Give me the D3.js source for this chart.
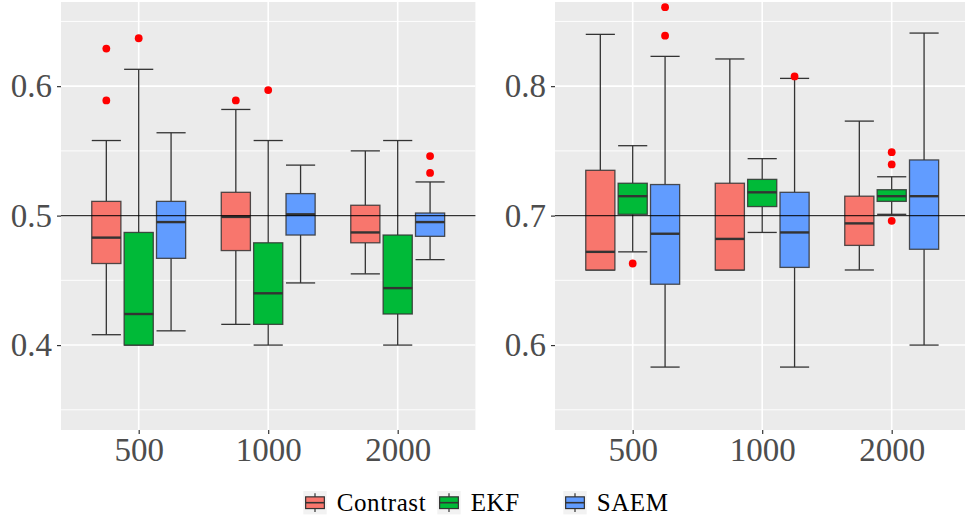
<!DOCTYPE html>
<html>
<head>
<meta charset="utf-8">
<script src="https://cdn.jsdelivr.net/npm/d3@7"></script>
<style>
  body { margin: 0; background: #fff; }
  svg { display: block; }
</style>
</head>
<body>
<div id="chart"></div>
<script>
// categories and groups
var sizes = ["500", "1000", "2000"];
var methods = ["Contrast", "EKF", "SAEM"];
var colors = ["#F8766D", "#00BA38", "#619CFF"];

// box stats per size: [lower whisker, q1, median, q3, upper whisker]
var leftContrast = [[0.408, 0.463, 0.483, 0.511, 0.558], [0.416, 0.473, 0.499, 0.518, 0.582], [0.455, 0.479, 0.487, 0.508, 0.550]];
var leftEKF      = [[0.400, 0.400, 0.424, 0.487, 0.613], [0.400, 0.416, 0.440, 0.479, 0.558], [0.400, 0.424, 0.444, 0.485, 0.558]];
var leftSAEM     = [[0.411, 0.467, 0.495, 0.511, 0.564], [0.448, 0.485, 0.501, 0.517, 0.539], [0.466, 0.484, 0.495, 0.502, 0.526]];

var rightContrast = [[0.658, 0.658, 0.672, 0.735, 0.840], [0.658, 0.658, 0.682, 0.725, 0.821], [0.658, 0.677, 0.694, 0.715, 0.773]];
var rightEKF      = [[0.672, 0.701, 0.715, 0.725, 0.754], [0.687, 0.707, 0.718, 0.728, 0.744], [0.701, 0.711, 0.715, 0.720, 0.730]];
var rightSAEM     = [[0.583, 0.647, 0.686, 0.724, 0.823], [0.583, 0.660, 0.687, 0.718, 0.806], [0.600, 0.674, 0.715, 0.743, 0.841]];

// outliers: [size, method, value]
var leftOutliers = [["500", "Contrast", 0.629], ["500", "Contrast", 0.589], ["500", "EKF", 0.637],
                    ["1000", "Contrast", 0.589], ["1000", "EKF", 0.597],
                    ["2000", "SAEM", 0.546], ["2000", "SAEM", 0.533]];
var rightOutliers = [["500", "EKF", 0.663], ["500", "SAEM", 0.861], ["500", "SAEM", 0.839],
                     ["1000", "SAEM", 0.8075],
                     ["2000", "EKF", 0.749], ["2000", "EKF", 0.7395], ["2000", "EKF", 0.696]];

var leftTicks = [0.4, 0.5, 0.6];
var leftMinor = [0.35, 0.45, 0.55, 0.65];
var rightTicks = [0.6, 0.7, 0.8];
var rightMinor = [0.55, 0.65, 0.75, 0.85];

var W = 965, H = 518;
var font = '"Liberation Serif", "Times New Roman", serif';

var svg = d3.select("#chart").append("svg")
    .attr("width", W)
    .attr("height", H);

function panel(opt) {
    var x = d3.scalePoint().domain(sizes).range([opt.x0, opt.x1]).padding(0.6);
    var step = x.step();
    var dodge = d3.scaleBand().domain(methods).range([-0.375 * step, 0.375 * step]);
    var boxW = dodge.bandwidth() * 0.9;
    var y = d3.scaleLinear().domain(opt.domain).range([430, 2]);

    var g = svg.append("g");

    // background
    g.append("rect")
        .attr("x", opt.x0).attr("y", 2)
        .attr("width", opt.x1 - opt.x0).attr("height", 428)
        .attr("fill", "#EBEBEB");

    // grid
    g.selectAll(".minor").data(opt.minor).enter().append("line")
        .attr("x1", opt.x0).attr("x2", opt.x1)
        .attr("y1", d => y(d)).attr("y2", d => y(d))
        .attr("stroke", "#fff").attr("stroke-width", 0.9);
    g.selectAll(".major").data(opt.ticks).enter().append("line")
        .attr("x1", opt.x0).attr("x2", opt.x1)
        .attr("y1", d => y(d)).attr("y2", d => y(d))
        .attr("stroke", "#fff").attr("stroke-width", 1.6);
    g.selectAll(".vgrid").data(sizes).enter().append("line")
        .attr("x1", d => x(d)).attr("x2", d => x(d))
        .attr("y1", 2).attr("y2", 430)
        .attr("stroke", "#fff").attr("stroke-width", 1.6);

    // boxes
    methods.forEach(function(m, mi) {
        var stats = opt.data[mi];
        sizes.forEach(function(s, si) {
            var st = stats[si];
            var cx = x(s) + dodge(m) + dodge.bandwidth() / 2;
            var bg = g.append("g");
            bg.append("line")
                .attr("x1", cx).attr("x2", cx)
                .attr("y1", y(st[4])).attr("y2", y(st[3]))
                .attr("stroke", "#333").attr("stroke-width", 1.3);
            bg.append("line")
                .attr("x1", cx).attr("x2", cx)
                .attr("y1", y(st[1])).attr("y2", y(st[0]))
                .attr("stroke", "#333").attr("stroke-width", 1.3);
            [st[0], st[4]].forEach(function(v) {
                bg.append("line")
                    .attr("x1", cx - boxW / 2).attr("x2", cx + boxW / 2)
                    .attr("y1", y(v)).attr("y2", y(v))
                    .attr("stroke", "#333").attr("stroke-width", 1.3);
            });
            bg.append("rect")
                .attr("x", cx - boxW / 2).attr("width", boxW)
                .attr("y", y(st[3])).attr("height", y(st[1]) - y(st[3]))
                .attr("fill", colors[mi])
                .attr("stroke", "#333").attr("stroke-opacity", 0.85).attr("stroke-width", 1.3);
            bg.append("line")
                .attr("x1", cx - boxW / 2).attr("x2", cx + boxW / 2)
                .attr("y1", y(st[2])).attr("y2", y(st[2]))
                .attr("stroke", "#333").attr("stroke-width", 2.4);
        });
    });

    // outliers
    g.selectAll(".out").data(opt.outliers).enter().append("circle")
        .attr("cx", d => x(d[0]) + dodge(d[1]) + dodge.bandwidth() / 2)
        .attr("cy", d => y(d[2]))
        .attr("r", 3.9)
        .attr("fill", "#FF0000");

    // reference line
    g.append("line")
        .attr("x1", opt.x0).attr("x2", opt.x1)
        .attr("y1", y(opt.ref)).attr("y2", y(opt.ref))
        .attr("stroke", "#000").attr("stroke-opacity", 0.8).attr("stroke-width", 1.2);

    // axes
    var yAxis = g.append("g")
        .attr("transform", `translate(${opt.x0},0)`)
        .call(d3.axisLeft(y).tickValues(opt.ticks).tickSize(4).tickPadding(5).tickFormat(d3.format(".1f")));
    yAxis.select(".domain").remove();
    yAxis.selectAll("line").attr("stroke", "#333").attr("stroke-width", 1.2);
    yAxis.selectAll("text")
        .attr("fill", "#4D4D4D")
        .style("font-family", font).style("font-size", "33px");

    var xAxis = g.append("g")
        .attr("transform", `translate(0,430)`)
        .call(d3.axisBottom(x).tickSize(4).tickPadding(4));
    xAxis.select(".domain").remove();
    xAxis.selectAll("line").attr("stroke", "#333").attr("stroke-width", 1.2);
    xAxis.selectAll("text")
        .attr("fill", "#4D4D4D")
        .style("font-family", font).style("font-size", "33px");
}

panel({x0: 61, x1: 475.4, domain: [0.3344, 0.665], ticks: leftTicks, minor: leftMinor,
       data: [leftContrast, leftEKF, leftSAEM], outliers: leftOutliers, ref: 0.5});
panel({x0: 555, x1: 969.4, domain: [0.5344, 0.865], ticks: rightTicks, minor: rightMinor,
       data: [rightContrast, rightEKF, rightSAEM], outliers: rightOutliers, ref: 0.7});

// legend
var legendX = [303.3, 437.3, 563.3];
var key = 23.4;
var legend = svg.append("g").attr("transform", "translate(0,491)");
methods.forEach(function(m, i) {
    var k = legend.append("g").attr("transform", `translate(${legendX[i]},0)`);
    k.append("rect").attr("width", key).attr("height", key).attr("fill", "#F2F2F2");
    k.append("line").attr("x1", key / 2).attr("x2", key / 2)
        .attr("y1", key * 0.1).attr("y2", key * 0.9)
        .attr("stroke", "#333").attr("stroke-width", 1.2);
    k.append("rect")
        .attr("x", key * 0.1).attr("width", key * 0.8)
        .attr("y", key * 0.25).attr("height", key * 0.5)
        .attr("fill", colors[i]).attr("stroke", "#333").attr("stroke-width", 1.2);
    k.append("line").attr("x1", key * 0.1).attr("x2", key * 0.9)
        .attr("y1", key / 2).attr("y2", key / 2)
        .attr("stroke", "#333").attr("stroke-width", 1.6);
    k.append("text")
        .attr("x", key + 10).attr("y", key / 2)
        .attr("dy", "0.35em")
        .attr("fill", "#000")
        .style("font-family", font).style("font-size", "25px").style("letter-spacing", "0.6px")
        .text(m);
});
</script>
</body>
</html>
